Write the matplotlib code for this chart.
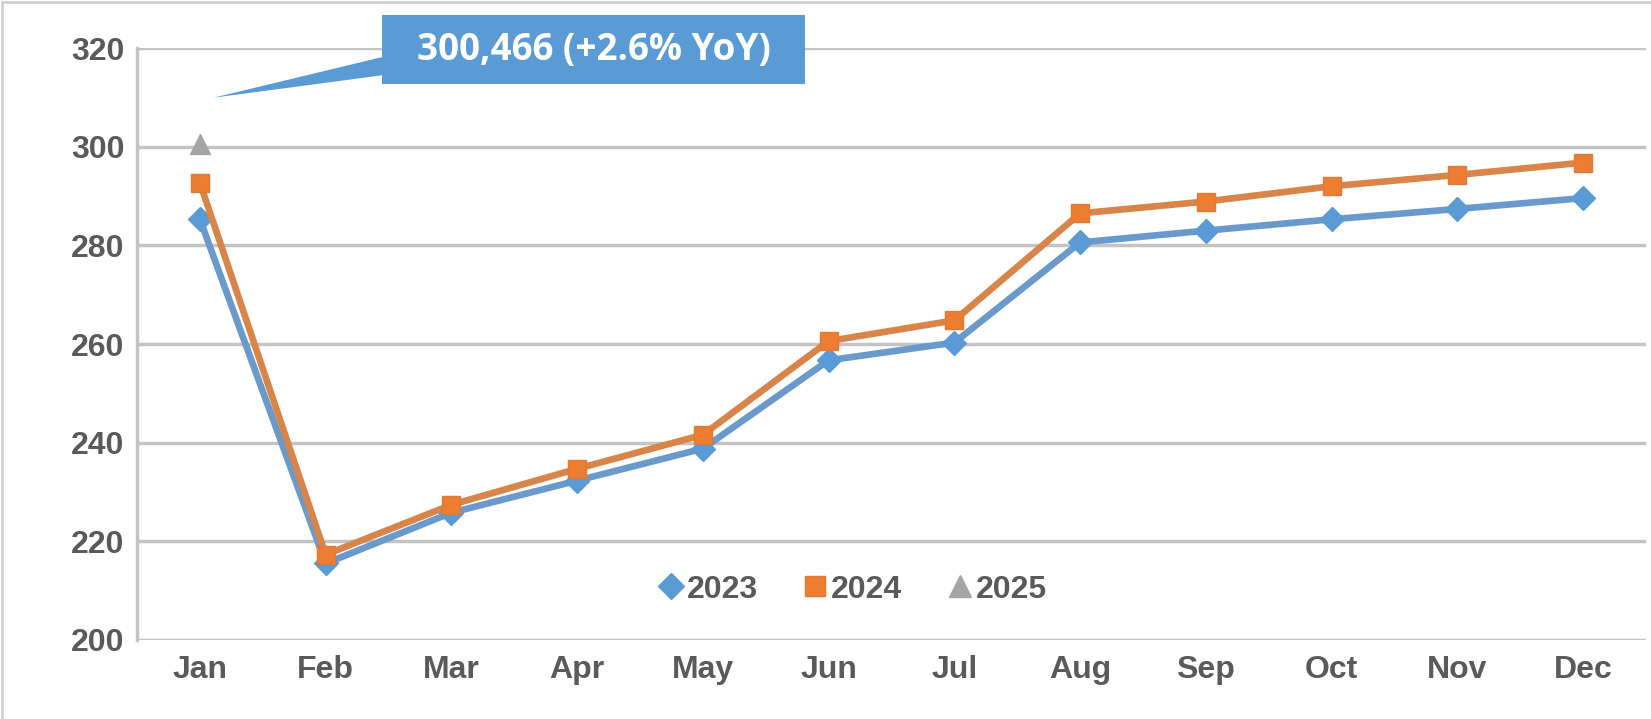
import matplotlib.pyplot as plt
from matplotlib.patches import Rectangle, Polygon
from matplotlib.lines import Line2D

months = ["Jan", "Feb", "Mar", "Apr", "May", "Jun", "Jul", "Aug", "Sep", "Oct", "Nov", "Dec"]
y2023 = [285.3, 215.5, 225.8, 232.3, 238.8, 256.7, 260.3, 280.6, 283.0, 285.3, 287.4, 289.6]
y2024 = [292.7, 217.3, 227.4, 234.7, 241.6, 260.6, 264.8, 286.5, 288.9, 292.0, 294.3, 296.8]
y2025 = [300.466]
callout = "300,466 (+2.6% YoY)"

plt.rcParams['font.family'] = ['Liberation Sans', 'DejaVu Sans']

fig = plt.figure(figsize=(16.51, 7.19), dpi=100)
ax = fig.add_axes([0.083, 0.110, 0.914, 0.823])

x = list(range(len(months)))
ax.plot(x, y2023, color="#6A9ACB", lw=4.8, marker="D", ms=12, mfc="#5B9BD5", mec="#5B9BD5",
        zorder=3)
ax.plot(x, y2024, color="#D9854A", lw=4.8, marker="s", ms=13, mfc="#ED7D31", mec="#E07A36",
        zorder=4)
ax.plot(x[:len(y2025)], y2025, lw=0, marker="^", ms=14, mfc="#A5A5A5", mec="#A5A5A5",
        zorder=5)

ax.set_xlim(-0.5, 11.5)
ax.set_ylim(200, 320)
ax.set_yticks(range(200, 321, 20))
ax.set_xticks(x)
ax.set_xticklabels(months)
ax.grid(axis="y", color="#C4C4C4", lw=2.5)
ax.set_axisbelow(True)
for s in ["top", "right", "bottom"]:
    ax.spines[s].set_visible(False)
ax.spines["left"].set_color("#C4C4C4")
ax.spines["left"].set_linewidth(2.5)
ax.tick_params(length=0, labelsize=23, labelcolor="#5A5A5A")
ax.tick_params(axis="y", pad=9)
ax.tick_params(axis="x", pad=11)
for lab in ax.get_xticklabels() + ax.get_yticklabels():
    lab.set_fontweight("bold")

handles = [
    Line2D([], [], ls="none", marker="D", ms=13, mfc="#5B9BD5", mec="#5B9BD5"),
    Line2D([], [], ls="none", marker="s", ms=15, mfc="#ED7D31", mec="#E07A36"),
    Line2D([], [], ls="none", marker="^", ms=16, mfc="#A5A5A5", mec="#A5A5A5"),
]
leg = ax.legend(handles, ["2023", "2024", "2025"], loc="center", bbox_to_anchor=(0.474, 0.085),
                ncol=3, frameon=False, handlelength=0.8, handletextpad=0.1, columnspacing=1.4,
                prop={"size": 23, "weight": "bold"})
for t in leg.get_texts():
    t.set_color("#5A5A5A")

# callout box pointing at the 2025 value
bx0, bx1, by0, by1 = 1.45, 4.81, 312.7, 326.7
ax.add_patch(Rectangle((bx0, by0), bx1 - bx0, by1 - by0, fc="#5B9BD5", ec="none",
                       clip_on=False, zorder=6))
ax.add_patch(Polygon([(bx0, 318.2), (0.11, y2025[0] + 9.5), (bx0, 314.5)], closed=True,
                     fc="#5B9BD5", ec="none", clip_on=False, zorder=6))
ax.text((bx0 + bx1) / 2, (by0 + by1) / 2, callout, color="white", fontsize=26.5,
        fontweight="bold", family=["Open Sans", "DejaVu Sans"], ha="center", va="center",
        zorder=7, clip_on=False)

fig.add_artist(Rectangle((0.001, -0.01), 1.2, 1.007, transform=fig.transFigure, fill=False,
                         ec="#D0D0D0", lw=2))

fig.savefig("out.png", dpi=100)
